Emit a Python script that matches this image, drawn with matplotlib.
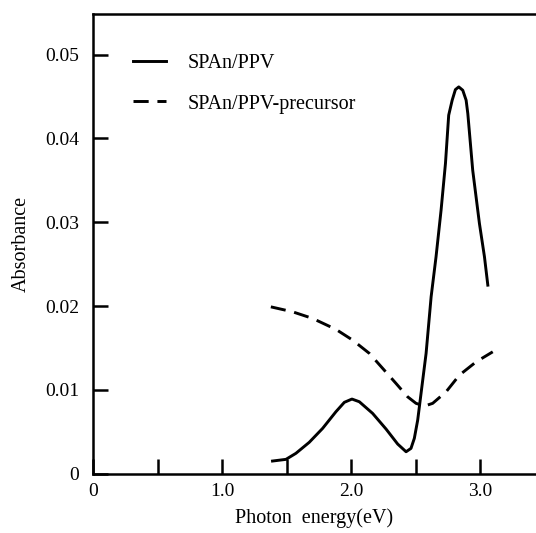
import matplotlib.pyplot as plt
from matplotlib import rc

rc('font', **{'family': 'serif', 'serif': ['Liberation Serif', 'DejaVu Serif'], 'size': 14})

# SPAn/PPV (solid)
energy_film = [1.39, 1.494, 1.571, 1.674, 1.778, 1.881, 1.946, 2.005, 2.062, 2.165,
               2.269, 2.359, 2.424, 2.462, 2.488, 2.514, 2.540, 2.579, 2.618, 2.656,
               2.695, 2.729, 2.754, 2.781, 2.806, 2.832, 2.863, 2.889, 2.902, 2.940,
               2.992, 3.031, 3.057]
abs_film = [0.00149, 0.00169, 0.00241, 0.00372, 0.00539, 0.00738, 0.00850, 0.00889, 0.00857, 0.00718,
            0.00531, 0.00352, 0.00260, 0.00300, 0.00420, 0.00638, 0.00957, 0.01434, 0.02110, 0.02587,
            0.03144, 0.03702, 0.04278, 0.04457, 0.04584, 0.04616, 0.04576, 0.04457, 0.04298, 0.03621,
            0.02985, 0.02587, 0.02249]

# SPAn/PPV-precursor (dashed)
energy_prec = [1.377, 1.545, 1.700, 1.881, 2.010, 2.140, 2.243, 2.346, 2.436, 2.501,
               2.566, 2.630, 2.734, 2.837, 2.967, 3.095]
abs_prec = [0.01990, 0.01931, 0.01852, 0.01721, 0.01593, 0.01434, 0.01255, 0.01076, 0.00916, 0.00838,
            0.00805, 0.00838, 0.00976, 0.01175, 0.01334, 0.01453]

xticks = [0, 0.5, 1.0, 1.5, 2.0, 2.5, 3.0]
xticklabels = ["0", "", "1.0", "", "2.0", "", "3.0"]
yticks = [0, 0.01, 0.02, 0.03, 0.04, 0.05]
yticklabels = ["0", "0.01", "0.02", "0.03", "0.04", "0.05"]

fig = plt.figure(figsize=(5.36, 5.33), dpi=100)
ax = fig.add_axes([0.1735, 0.1116, 0.8265, 0.8627])

ax.plot(energy_film, abs_film, color='black', lw=2.1, solid_joinstyle='round', label='SPAn/PPV')
ax.plot(energy_prec, abs_prec, color='black', lw=2.1, dashes=(5.2, 3), label='SPAn/PPV-precursor')

ax.set_xlim(0, 3.43)
ax.set_ylim(0, 0.0549)
ax.set_xticks(xticks, labels=xticklabels)
ax.set_yticks(yticks, labels=yticklabels)
ax.tick_params(direction='in', length=11, width=1.8, labelsize=14)
ax.tick_params(axis='y', pad=10)
ax.tick_params(axis='x', pad=7)

ax.spines['right'].set_visible(False)
for s in ['left', 'bottom', 'top']:
    ax.spines[s].set_linewidth(1.8)

ax.set_xlabel('Photon  energy(eV)', fontsize=14.5, labelpad=6)
ax.set_ylabel('Absorbance', fontsize=14.5, labelpad=10)

ax.legend(loc='upper left', bbox_to_anchor=(0.09, 0.912), frameon=False, fontsize=14.5,
          borderpad=0, borderaxespad=0, handlelength=1.65, handletextpad=1.05, labelspacing=1.05)

plt.savefig('out.png', dpi=100)
